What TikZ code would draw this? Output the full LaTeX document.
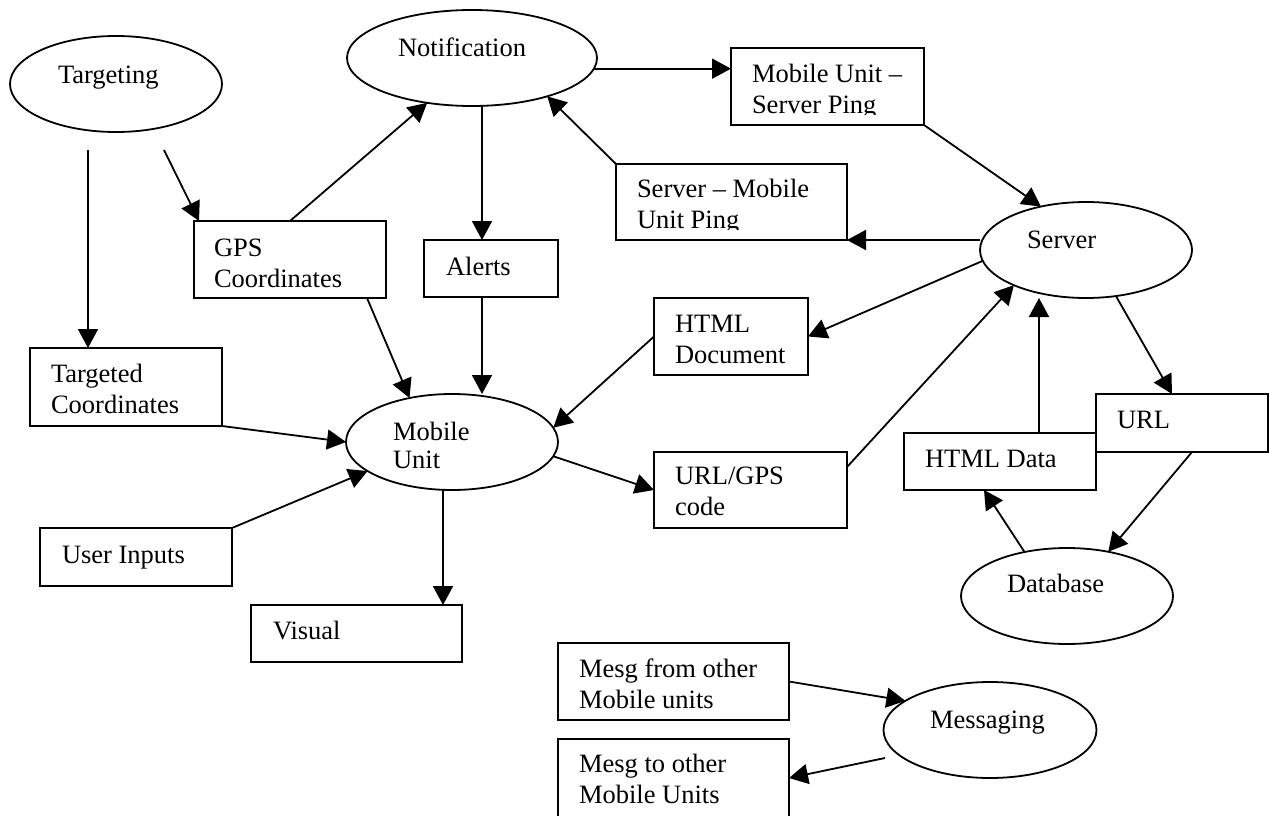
\documentclass[tikz,border=0pt]{standalone}
\usepackage{fontspec}
\setmainfont{Liberation Serif}
\usetikzlibrary{shapes.geometric,arrows.meta,calc}
\begin{document}
\begin{tikzpicture}[x=1pt,y=-1pt,
  every node/.style={inner sep=0pt,outer sep=0pt},
  ell/.style={draw,line width=1.8pt,ellipse,minimum width=212pt,minimum height=96pt},
  box/.style={draw,line width=1.8pt,rectangle,anchor=north west},
  lbl/.style={anchor=base west,align=left,font=\fontsize{26.5}{30.5}\selectfont},
  arr/.style={line width=1.8pt,-{Triangle[length=19pt,width=20pt]}}]
\clip (0,0) rectangle (1269,816);
\fill[white] (0,0) rectangle (1269,816);

% ellipses
\node[ell] (targeting) at (116,84) {};
\node[ell,minimum width=250pt] (notif) at (472,58) {};
\node[ell] (mobile) at (452,442) {};
\node[ell] (server) at (1086,250) {};
\node[ell] (database) at (1067,596) {};
\node[ell,minimum width=213pt] (messaging) at (990,730) {};

% boxes
\node[box,minimum width=192pt,minimum height=77pt] (gps) at (194,221) {};
\node[box,minimum width=193pt,minimum height=77pt] (msping) at (731,48) {};
\node[box,minimum width=231pt,minimum height=76pt] (smping) at (616,164) {};
\node[box,minimum width=134pt,minimum height=57pt] (alerts) at (424,240) {};
\node[box,minimum width=192pt,minimum height=78pt] (targeted) at (30,348) {};
\node[box,minimum width=192pt,minimum height=58pt] (userin) at (40,528) {};
\node[box,minimum width=211pt,minimum height=57pt] (visual) at (251,605) {};
\node[box,minimum width=154pt,minimum height=77pt] (htmldoc) at (654,298) {};
\node[box,minimum width=193pt,minimum height=76pt] (urlgps) at (654,452) {};
\node[box,minimum width=192pt,minimum height=57pt] (htmldata) at (904,433) {};
\node[box,minimum width=172pt,minimum height=58pt] (url) at (1096,394) {};
\node[box,minimum width=231pt,minimum height=77pt] (msgfrom) at (558,643) {};
\node[box,minimum width=231pt,minimum height=80pt] (msgto) at (558,739) {};

% texts (base anchor = baseline of the last line)
\node[lbl] (targetingT) at (58,83) {Targeting};
\node[lbl] (notifT) at (398,57) {Notification};
\begin{scope}
  \clip (msping.north west) rectangle ([yshift=11pt]msping.south east);
  \node[lbl] (mspingT) at (752,113) {Mobile Unit –\\Server Ping};
\end{scope}
\begin{scope}
  \clip (smping.north west) rectangle ([yshift=11pt]smping.south east);
  \node[lbl] (smpingT) at (637,228) {Server – Mobile\\Unit Ping};
\end{scope}
\node[lbl] (gpsT) at (214,287) {GPS\\Coordinates};
\node[lbl] (alertsT) at (446,275) {Alerts};
\node[lbl] (serverT) at (1027,248) {Server};
\node[lbl] (htmldocT) at (675,363) {HTML\\Document};
\node[lbl] (targetedT) at (51,413) {Targeted\\Coordinates};
\node[lbl] (mobileT) at (393,468) {Mobile\\[-2.5pt]Unit};
\node[lbl] (urlgpsT) at (675,515) {URL/GPS\\code};
\node[lbl] (htmldataT) at (925,467) {HTML Data};
\node[lbl] (urlT) at (1117,428) {URL};
\node[lbl] (databaseT) at (1007,592) {Database};
\node[lbl] (userinT) at (62,563) {User Inputs};
\node[lbl] (visualT) at (273,639) {Visual};
\node[lbl] (msgfromT) at (579,708) {Mesg from other\\Mobile units};
\node[lbl] (messagingT) at (930,728) {Messaging};
\node[lbl] (msgtoT) at (579,803) {Mesg to other\\Mobile Units};

% connectors
\coordinate (t1) at (88,150);
\coordinate (t2) at (164,150);
\draw[arr] (t1) -- (t1 |- targeted.north);
\draw[arr] (t2) -- ([xshift=5pt]gps.north west);
\draw[arr] (gps.north) -- (notif.225);
\draw[arr] (notif.-5) -- (notif.-5 -| msping.west);
\draw[arr] (msping.south east) -- (server.136);
\draw[arr] (smping.south east -| server.west) -- (smping.south east);
\draw[arr] (smping.north west) -- (notif.-27);
\draw[arr] ([xshift=-9pt]alerts.north |- notif.south) -- ([xshift=-9pt]alerts.north);
\draw[arr] ([xshift=-9pt]alerts.south) -- ([xshift=-9pt]alerts.south |- mobile.north);
\draw[arr] ([xshift=-19pt]gps.south east) -- (mobile.134);
\draw[arr] (targeted.south east) -- (mobile.west);
\draw[arr] (userin.north east) -- (mobile.199);
\draw[arr] ([xshift=-9pt]mobile.south) -- ([xshift=-9pt]mobile.south |- visual.north);
\draw[arr] (server.186) -- (htmldoc.east);
\draw[arr] (htmldoc.west) -- (mobile.8);
\draw[arr] (mobile.-8) -- (urlgps.west);
\draw[arr] ([yshift=23pt]urlgps.east) -- (server.206);
\draw[arr] ([xshift=39pt]htmldata.north) -- ([xshift=39pt]htmldata.north |- server.south);
\draw[arr] (server.-57) -- ([xshift=-10pt]url.north);
\draw[arr] ([xshift=10pt]url.south) -- (database.47);
\draw[arr] (database.134) -- ([xshift=-16pt]htmldata.south);
\draw[arr] (msgfrom.east) -- (messaging.161);
\coordinate (m1) at ($(messaging.center)+(-105,28)$);
\draw[arr] (m1) -- ([yshift=-39pt]msgto.north east);
\end{tikzpicture}
\end{document}
